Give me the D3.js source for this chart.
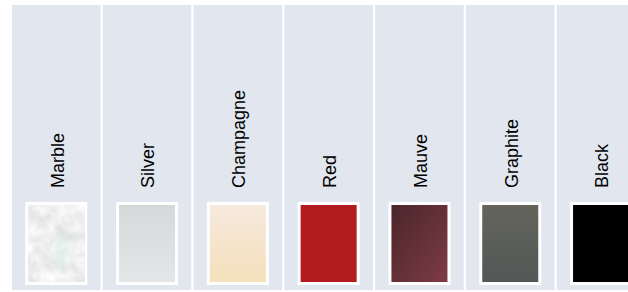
<!DOCTYPE html>
<html>
<head>
<meta charset="utf-8">
<script src="https://cdn.jsdelivr.net/npm/d3@7"></script>
<style>
  html, body { margin: 0; padding: 0; background: #fff; }
</style>
</head>
<body>
<div class="finishChart"></div>
<script>
// Parameters
const width = 628;
const height = 292;
const margin = { top: 5, left: 12, bottom: 2 };
const step = 90.8;
const gap = 2.3;
const swatch = { width: 62, height: 83, top: 202, border: 3 };

// data
const finishes = ['Marble', 'Silver', 'Champagne', 'Red', 'Mauve', 'Graphite', 'Black'];
const swatchTop = ['#e2e4e3', '#d6d8d9', '#f6e9de', '#b31b1e', '#4b262a', '#64645b', '#000000'];
const swatchBottom = ['#dcdfdd', '#e4e5e7', '#f4e0ba', '#b31b1e', '#7d3b47', '#525857', '#000000'];
const diagonal = [false, false, false, false, true, false, false];

function drawChart() {
    const svg = d3.select('.finishChart')
        .append('svg')
        .attr('width', width)
        .attr('height', height)
        .attr('style', 'display:block; font: 18px "Liberation Sans", Arial, sans-serif');

    const defs = svg.append('defs');

    // one gradient per swatch
    finishes.forEach((name, i) => {
        const g = defs.append('linearGradient')
            .attr('id', 'grad' + i)
            .attr('x1', 0).attr('y1', 0)
            .attr('x2', diagonal[i] ? 1 : 0).attr('y2', 1);
        g.append('stop').attr('offset', '0%').attr('stop-color', swatchTop[i]);
        g.append('stop').attr('offset', '100%').attr('stop-color', swatchBottom[i]);
    });

    // marble texture
    const marble = defs.append('filter').attr('id', 'marble')
        .attr('x', 0).attr('y', 0).attr('width', 1).attr('height', 1);
    marble.append('feTurbulence')
        .attr('type', 'fractalNoise')
        .attr('baseFrequency', 0.07)
        .attr('numOctaves', 4)
        .attr('seed', 7)
        .attr('result', 'noise');
    marble.append('feColorMatrix')
        .attr('in', 'noise')
        .attr('type', 'matrix')
        .attr('values', '0.4 0 0 0 0.66  0.4 0 0 0 0.67  0.4 0 0 0 0.66  0 0 0 0 1');

    const soft = defs.append('filter').attr('id', 'soft');
    soft.append('feGaussianBlur').attr('stdDeviation', 2.5);

    // horizontal scale
    const scaleX = d3.scaleBand()
        .domain(finishes)
        .range([margin.left, margin.left + finishes.length * step - gap])
        .paddingInner(gap / step)
        .paddingOuter(0);

    const cols = svg.append('g')
        .selectAll('g')
        .data(finishes)
        .join('g')
        .attr('transform', d => `translate(${scaleX(d)},0)`);

    // column panels
    cols.append('rect')
        .attr('x', 0)
        .attr('y', margin.top)
        .attr('width', scaleX.bandwidth())
        .attr('height', height - margin.top - margin.bottom)
        .attr('fill', '#e2e7ef');

    // labels
    cols.append('text')
        .attr('transform', `translate(${scaleX.bandwidth() / 2 + 1},188) rotate(-90)`)
        .attr('dy', '0.35em')
        .attr('fill', '#000')
        .text(d => d);

    // swatch frame
    const sx = (scaleX.bandwidth() - swatch.width) / 2;
    cols.append('rect')
        .attr('x', sx)
        .attr('y', swatch.top)
        .attr('width', swatch.width)
        .attr('height', swatch.height)
        .attr('fill', '#fff');

    // swatch colour
    cols.append('rect')
        .attr('x', sx + swatch.border)
        .attr('y', swatch.top + swatch.border)
        .attr('width', swatch.width - 2 * swatch.border)
        .attr('height', swatch.height - 2 * swatch.border)
        .attr('fill', (d, i) => `url(#grad${i})`)
        .attr('filter', d => d === 'Marble' ? 'url(#marble)' : null);

    // greenish vein on the marble
    cols.filter(d => d === 'Marble')
        .append('ellipse')
        .attr('cx', sx + 36)
        .attr('cy', swatch.top + 48)
        .attr('rx', 5)
        .attr('ry', 20)
        .attr('fill', '#c8e6d8')
        .attr('opacity', 0.45)
        .attr('filter', 'url(#soft)');
}

drawChart();
</script>
</body>
</html>
